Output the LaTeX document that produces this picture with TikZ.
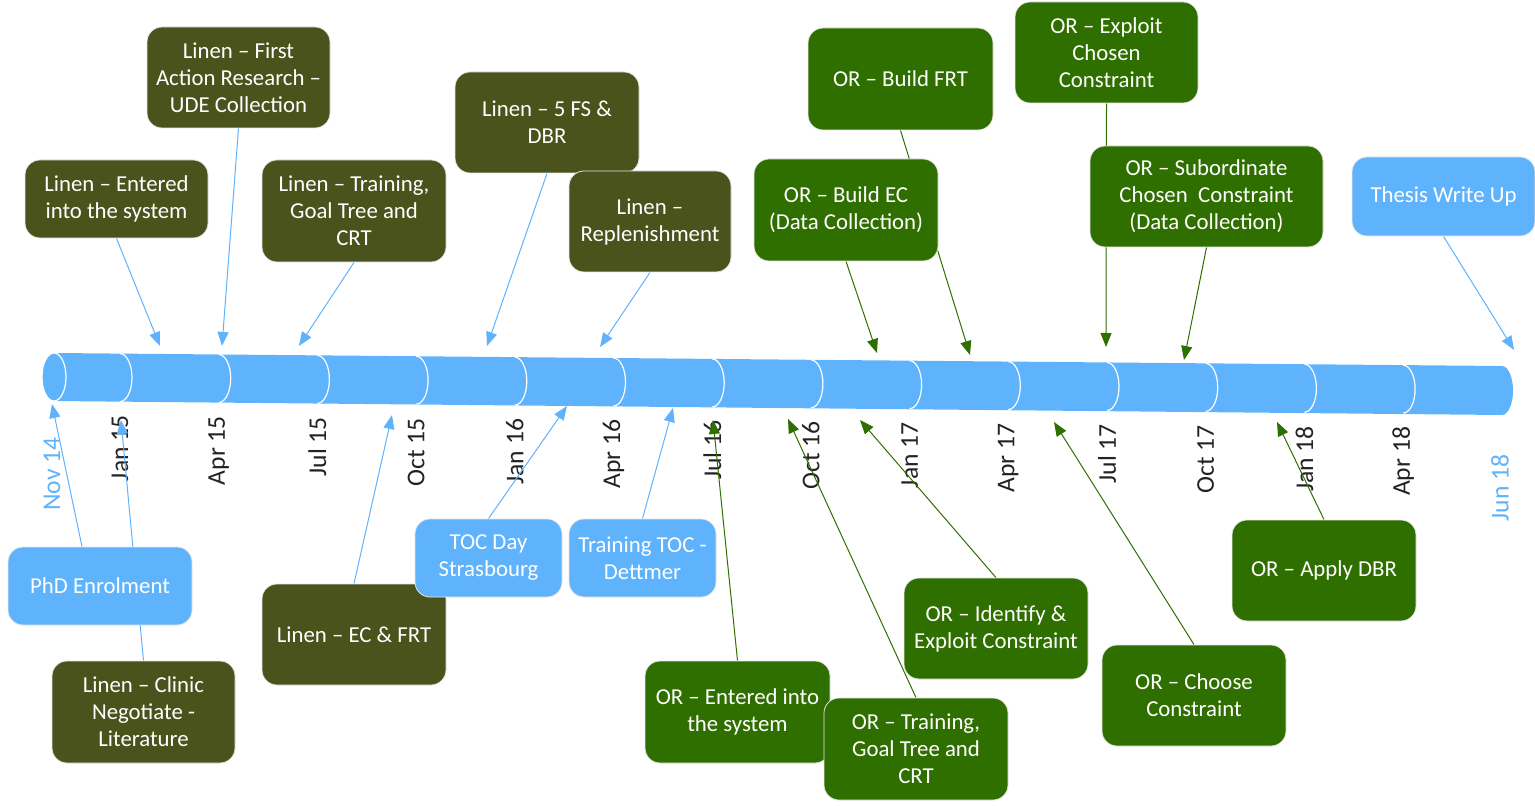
\documentclass[tikz,border=0pt]{standalone}
\usepackage{fontspec}
\setmainfont{Carlito}
\usepackage{xcolor}
\usepackage{tikz}
\usetikzlibrary{arrows.meta, positioning}
\pgfdeclarelayer{back}
\pgfsetlayers{back,main}
\definecolor{barblue}{RGB}{94,179,252}
\definecolor{linenolive}{RGB}{74,83,28}
\definecolor{orgreen}{RGB}{47,111,0}
\definecolor{datetext}{RGB}{35,35,35}
\tikzset{
	evbox/.style={rounded corners=7.5pt, draw=gray!20, line width=0.4pt, text=white, align=center, inner sep=0pt, font=\fontsize{11.4}{13.5}\selectfont},
	linen/.style={evbox, fill=linenolive},
	orbox/.style={evbox, fill=orgreen},
	milestone/.style={evbox, fill=barblue},
	blueline/.style={barblue, line width=0.5pt, -{Triangle[length=7pt,width=5.5pt]}},
	greenline/.style={orgreen, line width=0.5pt, -{Triangle[length=7pt,width=5.5pt]}},
	datelbl/.style={rotate=90, anchor=east, inner sep=0pt, font=\fontsize{12.8}{14}\selectfont, text=datetext},
}

\begin{document}
\begin{tikzpicture}[x=0.5pt, y=-0.5pt]
				\useasboundingbox (0,0) rectangle (1535,806);
				\begin{pgfonlayer}{back}
				\fill[barblue] (54,353) -- (1502,366) arc[start angle=-90, end angle=90, x radius=11, y radius=24.5] -- (54,401) arc[start angle=90, end angle=270, x radius=12, y radius=24] -- cycle;
				\foreach \i in {0,...,13} {
					\pgfmathsetmacro\sx{120+98.7*\i}
					\pgfmathsetmacro\sy{353+0.009*(\sx-54)}
					\draw[white, line width=0.6pt] (\sx,\sy) arc[start angle=-90, end angle=90, x radius=12, y radius=24];
				}
				\draw[white, fill=barblue, line width=0.6pt] (54,377) ellipse [x radius=12, y radius=24];
				\foreach \lbl [count=\i from 0] in {Jan 15, Apr 15, Jul 15, Oct 15, Jan 16, Apr 16, Jul 16, Oct 16, Jan 17, Apr 17, Jul 17, Oct 17, Jan 18, Apr 18} {
					\pgfmathsetmacro\lx{120+98.7*\i}
					\pgfmathsetmacro\ly{415+0.009*(\lx-120)}
					\node[datelbl] (d\i) at (\lx,\ly) {\lbl};
				}
				\node[datelbl, text=barblue] (dNov) at (52,437) {Nov 14};
				\node[datelbl, text=barblue] (dJun) at (1500,454) {Jun 18};
				\end{pgfonlayer}

				\node[linen, minimum width=91.5pt, minimum height=39pt] (lentered) at (116.5,199) {Linen -- Entered\\into the system};
				\node[linen, minimum width=91.5pt, minimum height=50.5pt] (lfirst) at (238.5,77.5) {Linen -- First\\Action Research --\\UDE Collection};
				\node[linen, minimum width=92pt, minimum height=51pt] (ltrain) at (354,211) {Linen -- Training,\\Goal Tree and\\CRT};
				\node[linen, minimum width=92pt, minimum height=50.5pt] (lfs) at (547,122.5) {Linen -- 5 FS \&\\DBR};
				\node[linen, minimum width=81pt, minimum height=50.5pt] (lrepl) at (650,221.5) {Linen --\\Replenishment};
				\node[orbox, minimum width=92.5pt, minimum height=51pt] (orfrt) at (900.5,79) {OR -- Build FRT};
				\node[orbox, minimum width=92pt, minimum height=51pt] (orec) at (846,210) {OR -- Build EC\\(Data Collection)};
				\node[orbox, minimum width=91.5pt, minimum height=50.5pt] (orexploit) at (1106.5,52.5) {OR -- Exploit\\Chosen\\Constraint};
				\node[orbox, minimum width=116.5pt, minimum height=50.5pt] (orsub) at (1206.5,196.5) {OR -- Subordinate\\Chosen\ \ Constraint\\(Data Collection)};
				\node[milestone, minimum width=91.5pt, minimum height=39.5pt] (thesis) at (1443.5,196.5) {Thesis Write Up};
				\node[milestone, minimum width=92pt, minimum height=39pt] (phd) at (100,586) {PhD Enrolment};
				\node[linen, minimum width=91.5pt, minimum height=51pt] (lclinic) at (143.5,712) {Linen -- Clinic\\Negotiate -\\Literature};
				\node[linen, minimum width=92pt, minimum height=50.5pt] (lecfrt) at (354,634.5) {Linen -- EC \& FRT};
				\node[milestone, minimum width=73.5pt, minimum height=39pt] (tocday) at (488.5,558) {TOC Day\\Strasbourg};
				\node[milestone, minimum width=73.5pt, minimum height=39pt] (dettmer) at (642.5,558) {Training TOC -\\Dettmer};
				\node[orbox, minimum width=92.5pt, minimum height=51pt] (orentered) at (737.5,712) {OR -- Entered into\\the system};
				\node[orbox, minimum width=92pt, minimum height=51pt] (ortrain) at (916,749) {OR -- Training,\\Goal Tree and\\CRT};
				\node[orbox, minimum width=92pt, minimum height=50.5pt] (oridentify) at (996,628.5) {OR -- Identify \&\\Exploit Constraint};
				\node[orbox, minimum width=92pt, minimum height=50.5pt] (orchoose) at (1194,695.5) {OR -- Choose\\Constraint};
				\node[orbox, minimum width=92pt, minimum height=50.5pt] (ordbr) at (1324,570.5) {OR -- Apply DBR};

				\coordinate (tLentered) at (160,346);
				\coordinate (tLfirst) at (222,346);
				\coordinate (tLtrain) at (299,346);
				\coordinate (tLfs) at (487,346);
				\coordinate (tLrepl) at (600,347);
				\coordinate (tOrec) at (877,353);
				\coordinate (tOrfrt) at (970,355);
				\coordinate (tOrexploit) at (1106,347);
				\coordinate (tOrsub) at (1184,360);
				\coordinate (tThesis) at (1514,350);
				\coordinate (tPhd) at (52,404);
				\coordinate (tLclinic) at (121,420);
				\coordinate (tLecfrt) at (392,415);
				\coordinate (tTocday) at (567,406);
				\coordinate (tDettmer) at (673,408);
				\coordinate (tOrentered) at (713,420);
				\coordinate (tOrtrain) at (788,419);
				\coordinate (tOridentify) at (860,420);
				\coordinate (tOrchoose) at (1054,422);
				\coordinate (tOrdbr) at (1277,422);

				\begin{pgfonlayer}{back}
				\draw[blueline] (lentered.south) -- (tLentered);
				\draw[blueline] (lfirst.south) -- (tLfirst);
				\draw[blueline] (ltrain.south) -- (tLtrain);
				\draw[blueline] (lfs.south) -- (tLfs);
				\draw[blueline] (lrepl.south) -- (tLrepl);
				\draw[greenline] (orec.south) -- (tOrec);
				\draw[greenline] (orfrt.south) -- (tOrfrt);
				\draw[greenline] (orexploit.south) -- (tOrexploit);
				\draw[greenline] (orsub.south) -- (tOrsub);
				\draw[blueline] (thesis.south) -- (tThesis);
				\draw[blueline] ([xshift=-9pt]phd.north) -- (tPhd);
				\draw[blueline] (lclinic.north) -- (tLclinic);
				\draw[blueline] (lecfrt.north) -- (tLecfrt);
				\draw[blueline] (tocday.north) -- (tTocday);
				\draw[blueline] (dettmer.north) -- (tDettmer);
				\draw[greenline] (orentered.north) -- (tOrentered);
				\draw[greenline] (ortrain.north) -- (tOrtrain);
				\draw[greenline] (oridentify.north) -- (tOridentify);
				\draw[greenline] (orchoose.north) -- (tOrchoose);
				\draw[greenline] (ordbr.north) -- (tOrdbr);
				\end{pgfonlayer}
			\end{tikzpicture}
\end{document}
